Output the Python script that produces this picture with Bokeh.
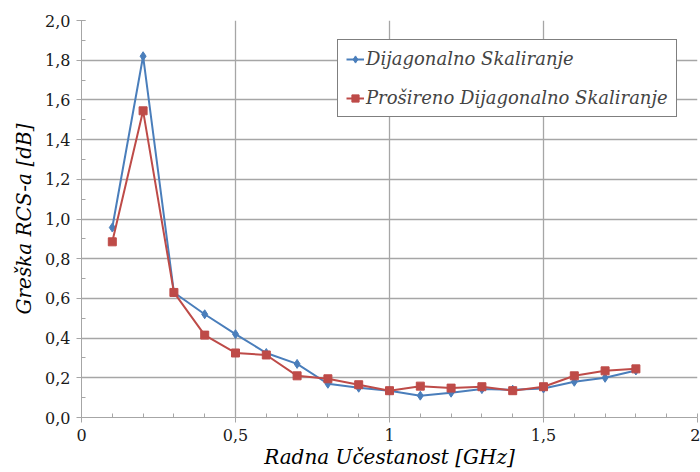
from bokeh.plotting import figure
from bokeh.models import FixedTicker, Legend, LegendItem, Range1d
from bokeh.embed import file_html
from bokeh.resources import INLINE

freq = [0.1, 0.2, 0.3, 0.4, 0.5, 0.6, 0.7, 0.8, 0.9, 1.0, 1.1, 1.2, 1.3, 1.4, 1.5, 1.6, 1.7, 1.8]
diag = [0.957, 1.82, 0.63, 0.52, 0.42, 0.325, 0.27, 0.17, 0.15, 0.135, 0.11, 0.125, 0.143, 0.14, 0.146, 0.18, 0.20, 0.237]
prosir = [0.885, 1.545, 0.63, 0.415, 0.325, 0.315, 0.21, 0.195, 0.165, 0.135, 0.158, 0.148, 0.155, 0.135, 0.155, 0.21, 0.235, 0.245]

x_ticks = [0, 0.5, 1, 1.5, 2]
x_labels = ["0", "0,5", "1", "1,5", "2"]
y_ticks = [0.0, 0.2, 0.4, 0.6, 0.8, 1.0, 1.2, 1.4, 1.6, 1.8, 2.0]
y_labels = ["0,0", "0,2", "0,4", "0,6", "0,8", "1,0", "1,2", "1,4", "1,6", "1,8", "2,0"]
name_a = "Dijagonalno Skaliranje"
name_b = "Prošireno Dijagonalno Skaliranje"

FONT = "DejaVu Serif"
BLUE = "#4a7ebb"
RED = "#be4b48"
GRID = "#a6a6a6"

p = figure(width=700, height=472, output_backend="svg", toolbar_location=None,
           x_range=Range1d(0, 2), y_range=Range1d(0, 2),
           min_border_left=81, min_border_right=3, min_border_top=20, min_border_bottom=55)
p.outline_line_color = None

p.xaxis.ticker = FixedTicker(ticks=x_ticks, minor_ticks=[i / 10 for i in range(21)])
p.yaxis.ticker = FixedTicker(ticks=y_ticks, minor_ticks=[i / 10 for i in range(21)])
p.xaxis.major_label_overrides = {t: l for t, l in zip(x_ticks, x_labels)}
p.yaxis.major_label_overrides = {t: l for t, l in zip(y_ticks, y_labels)}

for ax in (p.xaxis, p.yaxis):
    ax.axis_line_color = GRID
    ax.major_tick_line_color = GRID
    ax.minor_tick_line_color = GRID
    ax.major_tick_out = 5
    ax.major_tick_in = 0
    ax.minor_tick_in = 4
    ax.minor_tick_out = 0
    ax.major_label_text_font = FONT
    ax.major_label_text_font_size = "16px"
    ax.major_label_text_color = "#1a1a1a"
    ax.axis_label_text_font = FONT
    ax.axis_label_text_font_style = "italic"
    ax.axis_label_text_font_size = "20px"
    ax.axis_label_text_color = "#000000"

p.yaxis.major_tick_in = 4
p.xaxis.axis_label = "Radna Učestanost [GHz]"
p.yaxis.axis_label = "Greška RCS-a [dB]"
p.xaxis.major_label_standoff = 6
p.xaxis.axis_label_standoff = 1
p.yaxis.major_label_standoff = 6
p.yaxis.axis_label_standoff = 6

p.xgrid.grid_line_color = GRID
p.ygrid.grid_line_color = GRID
p.xgrid.grid_line_width = 1.3
p.ygrid.grid_line_width = 1.3

la = p.line(freq, diag, line_color=BLUE, line_width=2)
ma = p.scatter(freq, diag, marker="diamond", size=9, fill_color=BLUE, line_color=BLUE)
lb = p.line(freq, prosir, line_color=RED, line_width=2)
mb = p.scatter(freq, prosir, marker="square", size=8, fill_color=RED, line_color=RED)

legend = Legend(items=[LegendItem(label=name_a, renderers=[la, ma]),
                       LegendItem(label=name_b, renderers=[lb, mb])],
                location=(256, 300))
legend.border_line_color = "#000000"
legend.border_line_width = 1
legend.background_fill_color = "white"
legend.background_fill_alpha = 1
legend.label_text_font = FONT
legend.label_text_font_style = "italic"
legend.label_text_font_size = "18px"
legend.glyph_width = 18
legend.label_standoff = 2
legend.spacing = 18
legend.padding = 8
legend.margin = 0
p.add_layout(legend, "center")

open("out.html", "w").write(file_html(p, INLINE))
